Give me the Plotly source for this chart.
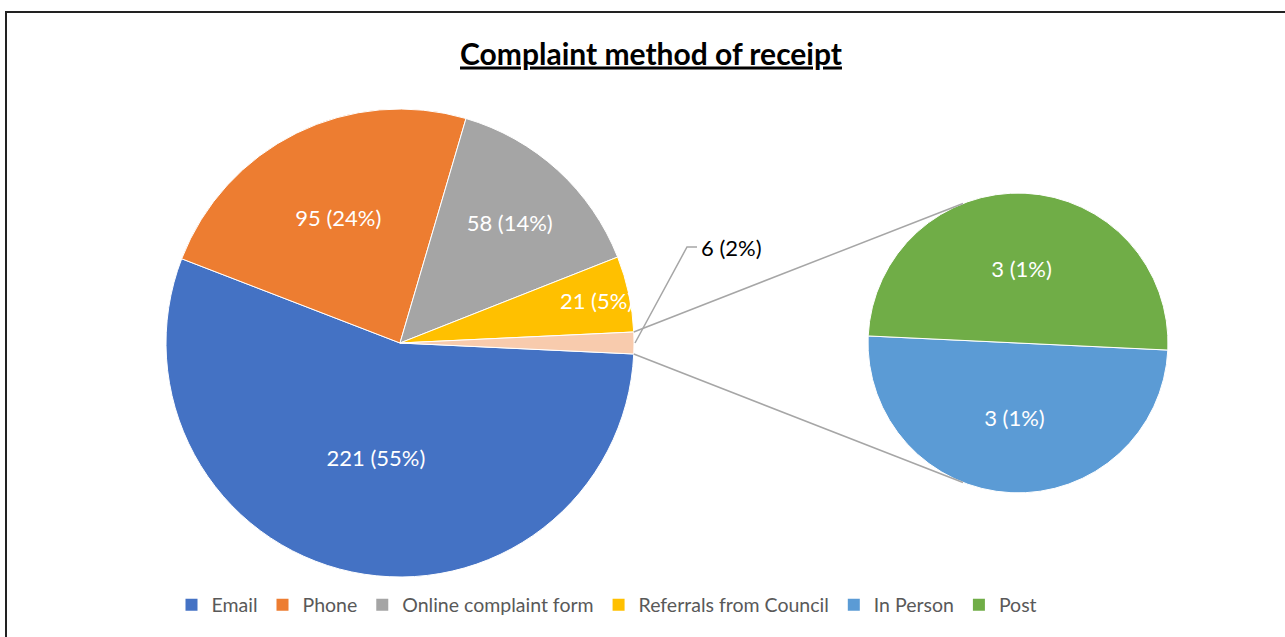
import math
import plotly.graph_objects as go

W, H = 1285, 637

# data
main_labels = ["Email", "Phone", "Online complaint form", "Referrals from Council", "Other"]
main_values = [221, 95, 58, 21, 6]
main_pct = [55, 24, 14, 5, 2]
main_colors = ["#4472C4", "#ED7D31", "#A5A5A5", "#FFC000", "#F8CBAD"]

sub_labels = ["In Person", "Post"]
sub_values = [3, 3]
sub_pct = [1, 1]
sub_colors = ["#5B9BD5", "#70AD47"]

legend_labels = ["Email", "Phone", "Online complaint form", "Referrals from Council", "In Person", "Post"]
legend_colors = main_colors[:4] + sub_colors

FONT = "Lato"

# geometry in pixels (margins are zero, so paper == pixels)
c1x, c1y, r1 = 400, 343, 234
c2x, c2y, r2 = 1018, 343, 150


def px(x):
    return x / W


def py(y):
    return 1 - y / H


total = sum(main_values)
half = main_values[-1] / total * 180
rot = 90 + half

main_text = [f"{v} ({p}%)" for v, p in zip(main_values, main_pct)]
sub_text = [f"{v} ({p}%)" for v, p in zip(sub_values, sub_pct)]

fig = go.Figure()
fig.add_trace(go.Pie(
    labels=main_labels, values=main_values, text=main_text, textinfo="text",
    textposition=["inside"] * 4 + ["none"], insidetextorientation="horizontal",
    marker=dict(colors=main_colors, line=dict(color="white", width=1)),
    sort=False, direction="clockwise", rotation=rot, showlegend=False,
    textfont=dict(family=FONT, size=22, color="white"),
    domain=dict(x=[px(c1x - r1), px(c1x + r1)], y=[py(c1y + r1), py(c1y - r1)]),
))
fig.add_trace(go.Pie(
    labels=sub_labels, values=sub_values, text=sub_text, textinfo="text",
    textposition="inside", insidetextorientation="horizontal",
    marker=dict(colors=sub_colors, line=dict(color="white", width=1)),
    sort=False, direction="clockwise", rotation=rot, showlegend=False,
    textfont=dict(family=FONT, size=22, color="white"),
    domain=dict(x=[px(c2x - r2), px(c2x + r2)], y=[py(c2y + r2), py(c2y - r2)]),
))

# legend entries
for lab, col in zip(legend_labels, legend_colors):
    fig.add_trace(go.Scatter(x=[None], y=[None], mode="markers", name=lab,
                             marker=dict(symbol="square", size=12, color=col)))

shapes = []
# connector lines between the two pies
a_top = math.radians(rot - 2 * half)
a_bot = math.radians(rot)
s_top = math.radians(-21.5)
s_bot = math.radians(201.5)
for a, s in [(a_top, s_top), (a_bot, s_bot)]:
    shapes.append(dict(
        type="line", xref="paper", yref="paper",
        x0=px(c1x + r1 * math.sin(a)), y0=py(c1y - r1 * math.cos(a)),
        x1=px(c2x + r2 * math.sin(s)), y1=py(c2y - r2 * math.cos(s)),
        line=dict(color="#A6A6A6", width=1.5)))

# leader line for the "other" slice label
am = math.radians(rot - half)
ex, ey = c1x + r1 * math.sin(am) + 1, c1y - r1 * math.cos(am)
kx, ky = ex + 52, ey - 96
shapes.append(dict(
    type="path", xref="paper", yref="paper",
    path=f"M {px(ex)} {py(ey)} L {px(kx)} {py(ky)} L {px(kx + 10)} {py(ky)}",
    line=dict(color="#A6A6A6", width=1.5)))

# outer border
shapes.append(dict(type="rect", xref="paper", yref="paper",
                   x0=px(6), y0=-0.1, x1=1.1, y1=py(12),
                   line=dict(color="#222", width=2)))

fig.update_layout(
    width=W, height=H,
    margin=dict(l=0, r=0, t=0, b=0),
    paper_bgcolor="white", plot_bgcolor="white",
    font=dict(family=FONT, color="#595959"),
    title=dict(text="<b><u>Complaint method of receipt</u></b>",
               x=px(651), xanchor="center", y=py(54), yanchor="middle",
               font=dict(family=FONT, size=30, color="black")),
    xaxis=dict(visible=False), yaxis=dict(visible=False),
    uniformtext=dict(minsize=22, mode="show"),
    showlegend=True,
    legend=dict(orientation="h", x=px(607), xanchor="center", y=py(605), yanchor="middle",
                font=dict(family=FONT, size=19.5, color="#595959"),
                itemclick=False, itemdoubleclick=False),
    shapes=shapes,
    annotations=[dict(text=f"{main_values[-1]} ({main_pct[-1]}%)",
                      xref="paper", yref="paper", x=px(kx + 12), y=py(ky),
                      xanchor="left", yanchor="middle", showarrow=False,
                      font=dict(family=FONT, size=22, color="black"))],
)

fig.write_html("out.html", config={"displayModeBar": False},
               post_script="document.body.style.margin='0';")
